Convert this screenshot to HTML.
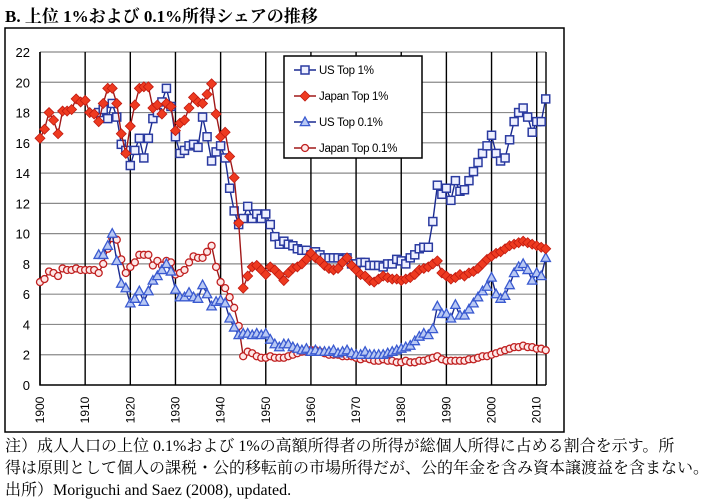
<!DOCTYPE html>
<html><head><meta charset="utf-8">
<style>
body{margin:0;background:#fff;width:720px;height:503px;overflow:hidden;position:relative;font-family:"Liberation Serif","Noto Serif CJK SC",serif;}
.title{position:absolute;left:5px;top:2px;font-size:17px;font-weight:bold;white-space:nowrap;}
.note{position:absolute;left:5px;font-size:16px;white-space:nowrap;line-height:20px;}
svg{position:absolute;left:0;top:0;}
</style></head><body>
<div class="title">B. 上位 1%および 0.1%所得シェアの推移</div>
<svg id="chart" width="720" height="503"></svg>
<div class="note" style="top:437px">注）成人人口の上位 0.1%および 1%の高額所得者の所得が総個人所得に占める割合を示す。所</div>
<div class="note" style="top:459px">得は原則として個人の課税・公的移転前の市場所得だが、公的年金を含み資本譲渡益を含まない。</div>
<div class="note" style="top:481px">出所）Moriguchi and Saez (2008), updated.</div>
<script>
const yTicks=[0,2,4,6,8,10,12,14,16,18,20,22];
const xTicks=[1900,1910,1920,1930,1940,1950,1960,1970,1980,1990,2000,2010];
const usTop1Start=1913;
const usTop1=[18.0,18.2,17.6,18.6,17.7,15.9,15.5,14.5,15.5,16.3,15.0,16.3,17.6,18.0,18.7,19.6,18.4,16.4,15.3,15.5,15.8,15.9,15.7,17.7,16.4,14.8,15.4,15.8,15.0,13.0,11.5,10.6,11.0,11.8,11.0,11.3,11.0,11.3,10.6,9.8,9.3,9.5,9.3,9.2,9.0,8.9,8.9,8.6,8.8,8.6,8.4,8.4,8.4,8.4,8.3,8.4,8.0,8.0,8.1,8.1,7.9,7.9,7.9,7.8,8.0,8.0,8.3,8.2,8.0,8.4,8.6,9.0,9.1,9.1,10.8,13.2,12.6,13.0,12.2,13.5,12.8,12.9,13.5,14.1,14.7,15.3,15.8,16.5,15.3,14.8,15.0,16.2,17.4,18.0,18.3,17.7,16.7,17.4,17.4,18.9];
const jpTop1Start=1900;
const jpTop1=[16.3,16.9,18.0,17.5,16.6,18.1,18.1,18.2,18.9,18.7,18.8,18.0,17.9,17.4,18.6,19.6,19.6,18.6,16.6,15.3,17.1,18.5,19.6,19.7,19.7,18.3,18.5,17.9,18.6,18.4,16.8,17.3,17.5,18.3,19.0,18.7,18.6,19.2,19.9,17.9,16.4,16.7,15.1,13.7,10.7,6.4,7.2,7.8,7.9,7.6,7.3,7.8,7.6,7.3,6.9,7.4,7.7,7.8,8.0,8.3,8.7,8.4,8.2,7.9,7.7,7.6,7.7,8.1,8.4,7.9,7.6,7.3,7.2,6.9,6.8,7.0,7.2,7.1,7.0,7.0,6.9,7.0,7.1,7.3,7.6,7.7,7.8,8.0,8.2,7.4,7.2,7.0,7.1,7.3,7.2,7.4,7.5,7.7,8.0,8.3,8.5,8.7,8.8,9.0,9.2,9.3,9.4,9.5,9.4,9.3,9.2,9.1,9.0];
const usTop01Start=1913;
const usTop01=[8.6,8.6,9.2,10.0,8.2,6.7,6.4,5.4,5.7,6.2,5.5,6.2,6.9,7.2,7.6,8.0,7.5,6.3,5.8,5.8,6.1,5.8,5.7,6.6,6.0,5.2,5.5,5.6,5.4,4.4,3.8,3.3,3.4,3.4,3.3,3.4,3.3,3.4,3.0,2.7,2.5,2.7,2.7,2.5,2.4,2.3,2.4,2.2,2.3,2.2,2.2,2.2,2.3,2.1,2.2,2.3,2.1,2.0,2.0,2.2,2.0,2.0,2.0,2.0,2.1,2.2,2.3,2.4,2.5,2.6,2.9,3.2,3.4,3.3,3.7,5.2,4.7,4.7,4.4,5.3,4.6,4.6,5.0,5.4,5.8,6.2,6.5,7.1,6.0,5.7,5.9,6.6,7.4,7.8,8.0,7.6,6.9,7.4,7.2,8.4];
const jpTop01Start=1900;
const jpTop01=[6.8,7.0,7.5,7.4,7.2,7.7,7.6,7.6,7.7,7.6,7.6,7.6,7.6,7.4,8.0,9.0,9.7,9.6,8.3,7.4,7.8,8.1,8.6,8.6,8.6,7.9,8.2,7.9,8.2,8.1,7.3,7.4,7.6,8.1,8.5,8.4,8.4,8.8,9.2,7.8,6.8,6.4,5.8,5.1,3.9,1.9,2.2,2.1,1.9,1.8,1.8,1.9,1.8,1.8,1.8,1.9,2.0,2.1,2.2,2.2,2.3,2.3,2.2,2.1,2.0,2.0,2.0,1.9,1.9,1.9,1.8,1.7,1.8,1.7,1.6,1.6,1.7,1.6,1.6,1.5,1.5,1.6,1.5,1.5,1.6,1.6,1.7,1.8,1.9,1.7,1.6,1.6,1.6,1.6,1.6,1.7,1.7,1.8,1.9,1.9,2.0,2.1,2.2,2.3,2.4,2.5,2.5,2.6,2.5,2.5,2.4,2.4,2.3];

const NS='http://www.w3.org/2000/svg';
const svg=document.getElementById('chart');
const X0=40,X1=546,Y0=385,Y1=52;
const xs=y=>X0+(y-1900)*(536.7-X0)/110;
const ys=v=>Y0-v*(Y0-Y1)/22;
function mk(tag,attrs,parent){const e=document.createElementNS(NS,tag);for(const k in attrs)e.setAttribute(k,attrs[k]);(parent||svg).appendChild(e);return e;}

const frame=mk('rect',{x:5,y:28,width:559,height:404,fill:'none',stroke:'#000','stroke-width':1.5});



const grid=mk('g',{});


yTicks.forEach(t=>{
  if(t>0){const l=mk('line',{x1:X0,x2:X1,y1:ys(t),y2:ys(t),stroke:'#8a8a8a','stroke-width':1.2},grid);
  
  }
  const tx=mk('text',{x:30,y:ys(t)+5,'text-anchor':'end','font-size':13,'font-family':'Liberation Sans, sans-serif',fill:'#000'});
  tx.textContent=t;
  
  
});
xTicks.forEach(t=>{
  const l=mk('line',{x1:xs(t),x2:xs(t),y1:Y1,y2:Y0,stroke:'#000','stroke-width':1.4},grid);
  
  
  const tx=mk('text',{x:0,y:0,'text-anchor':'middle','font-size':12,'font-family':'Liberation Sans, sans-serif',fill:'#000',transform:`translate(${xs(t)+4},410) rotate(-90)`});
  tx.textContent=t;
  
  
});
const rb=mk('line',{x1:X1,x2:X1,y1:Y1,y2:Y0,stroke:'#000','stroke-width':1.4});


const ax=mk('path',{d:`M${X0},${Y1}V${Y0}H${X1}`,fill:'none',stroke:'#000','stroke-width':1.5});



function marker(g,kind,x,y,st){
  let e;
  if(kind==='sq')e=mk('rect',{x:x-4,y:y-4,width:8,height:8,fill:st.fill,stroke:st.ms,'stroke-width':1.5},g);
  else if(kind==='di')e=mk('path',{d:`M${x},${y-5}L${x+5},${y}L${x},${y+5}L${x-5},${y}Z`,fill:st.fill,stroke:st.ms,'stroke-width':0.8},g);
  else if(kind==='tri')e=mk('path',{d:`M${x},${y-5}L${x+4.7},${y+3.6}L${x-4.7},${y+3.6}Z`,fill:st.fill,stroke:st.ms,'stroke-width':1.3},g);
  else e=mk('circle',{cx:x,cy:y,r:3.5,fill:st.fill,stroke:st.ms,'stroke-width':1.3},g);
  return e;
}
const styles={
 us1:{line:'#1a2a90',ms:'#2a3aa0',fill:'#eef0ff',kind:'sq'},
 jp1:{line:'#a01818',ms:'#c01a10',fill:'#ee3a20',kind:'di'},
 us01:{line:'#1a2a90',ms:'#3a5ad0',fill:'#b8c8f4',kind:'tri'},
 jp01:{line:'#a01818',ms:'#c02020',fill:'#fde8e8',kind:'ci'}
};
function series(name,start,vals,st){
  const g=mk('g',{});
  
  
  const d=vals.map((v,i)=>(i?'L':'M')+xs(start+i).toFixed(1)+','+ys(v).toFixed(1)).join('');
  mk('path',{d:d,fill:'none',stroke:st.line,'stroke-width':1.4},g);
  vals.forEach((v,i)=>{const m=marker(g,st.kind,xs(start+i),ys(v),st);
    
    });
}
series('us-top-1-series',usTop1Start,usTop1,styles.us1);
series('jp-top-01-series',jpTop01Start,jpTop01,styles.jp01);
series('us-top-01-series',usTop01Start,usTop01,styles.us01);
series('jp-top-1-series',jpTop1Start,jpTop1,styles.jp1);

const lg=mk('g',{});


mk('rect',{x:284,y:56,width:138,height:102,fill:'#fff',stroke:'#000','stroke-width':1.5},lg);
const entries=[['US Top 1%',styles.us1],['Japan Top 1%',styles.jp1],['US Top 0.1%',styles.us01],['Japan Top 0.1%',styles.jp01]];
entries.forEach((en,i)=>{
  const y=70+i*26;
  const eg=mk('g',{},lg);
  
  
  mk('line',{x1:294,x2:316,y1:y,y2:y,stroke:en[1].line,'stroke-width':1.4},eg);
  marker(eg,en[1].kind,305,y,en[1]);
  const t=mk('text',{x:319,y:y+4,'font-size':11.5,'font-family':'Liberation Sans, sans-serif',fill:'#000','letter-spacing':'-0.3'},eg);
  t.textContent=en[0];
});
</script>
</body></html>
